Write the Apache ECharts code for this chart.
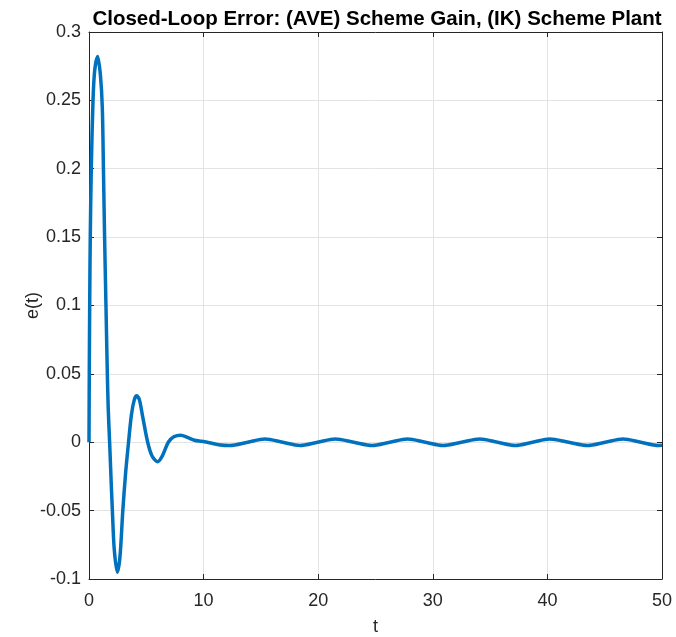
<!DOCTYPE html>
<html>
<head>
<meta charset="utf-8">
<script src="https://cdn.jsdelivr.net/npm/echarts@6/dist/echarts.min.js"></script>
<style>html,body{margin:0;padding:0;background:#fff;}#c{width:676px;height:637px;}</style>
</head>
<body>
<div id="c"></div>
<script>
const titleText = 'Closed-Loop Error: (AVE) Scheme Gain, (IK) Scheme Plant';
const xName = 't';
const yName = 'e(t)';
const tValues = [0, 0.03, 0.06, 0.11, 0.2, 0.35, 0.5, 0.76, 1.0, 1.16, 1.26, 1.36, 1.48, 1.6, 1.68, 1.8, 1.92, 2.04, 2.2, 2.47, 2.7, 2.95, 3.2, 3.45, 3.7, 3.95, 4.16, 4.4, 4.7, 5.12, 5.5, 5.99, 6.4, 6.92, 7.4, 8.0, 8.6, 9.2, 9.83, 10.5, 11.3, 12.3, 13.85, 15.36, 16.9, 18.4, 19.95, 21.5, 23.1, 24.7, 26.25, 27.8, 29.35, 30.9, 32.5, 34.1, 35.65, 37.2, 38.7, 40.2, 41.85, 43.5, 45.05, 46.6, 48.15, 49.7, 50];
const eValues = [0, 0.06, 0.10, 0.15, 0.20, 0.25, 0.272, 0.282, 0.268, 0.245, 0.20, 0.15, 0.10, 0.05, 0.024, 0.0, -0.026, -0.05, -0.078, -0.095, -0.084, -0.05, -0.022, 0.0, 0.02, 0.031, 0.034, 0.031, 0.018, 0.0, -0.01, -0.0142, -0.01, 0.0, 0.004, 0.0052, 0.0035, 0.0015, 0.0007, -0.0003, -0.0018, -0.0024, 0, 0.0023, 0, -0.0023, 0, 0.0023, 0, -0.0023, 0, 0.0023, 0, -0.0023, 0, 0.0023, 0, -0.0023, 0, 0.0023, 0, -0.0023, 0, 0.0023, 0, -0.0023, -0.0022];

const data = tValues.map((t, i) => [t, eValues[i]]);
const font = 'Liberation Sans, Arial, Helvetica, sans-serif';
const axisCol = '#262626';
const gridCol = '#e3e3e3';

const chart = echarts.init(document.getElementById('c'), null, {renderer: 'canvas'});
const baseX = {
  type: 'value', min: 0, max: 50, interval: 10,
  axisLine: {show: true, onZero: false, lineStyle: {color: axisCol, width: 1}},
  axisTick: {show: true, inside: true, length: 5, lineStyle: {color: axisCol}},
};
const baseY = {
  type: 'value', min: -0.1, max: 0.3, interval: 0.05,
  axisLine: {show: true, onZero: false, lineStyle: {color: axisCol, width: 1}},
  axisTick: {show: true, inside: true, length: 5, lineStyle: {color: axisCol}},
};
chart.setOption({
  animation: false,
  backgroundColor: '#ffffff',
  title: {
    text: titleText, left: 372, top: 4, textAlign: 'center',
    textStyle: {fontFamily: font, fontSize: 20.5, fontWeight: 'bold', color: '#000'}
  },
  grid: {left: 89, right: 14, top: 32, bottom: 58, containLabel: false, outerBoundsMode: 'none'},
  xAxis: [
    Object.assign({}, baseX, {
      position: 'bottom',
      name: xName, nameLocation: 'middle', nameGap: 39, nameMoveOverlap: false,
      nameTextStyle: {fontFamily: font, fontSize: 18, color: axisCol},
      axisLabel: {fontFamily: font, fontSize: 18, color: axisCol, margin: 13},
      splitLine: {show: true, lineStyle: {color: gridCol, width: 1}}
    }),
    Object.assign({}, baseX, {
      position: 'top', axisLabel: {show: false}, splitLine: {show: false}
    })
  ],
  yAxis: [
    Object.assign({}, baseY, {
      position: 'left',
      name: yName, nameLocation: 'middle', nameGap: 47, nameMoveOverlap: false,
      nameTextStyle: {fontFamily: font, fontSize: 18, color: axisCol},
      axisLabel: {fontFamily: font, fontSize: 18, color: axisCol, margin: 8},
      splitLine: {show: true, lineStyle: {color: gridCol, width: 1}}
    }),
    Object.assign({}, baseY, {
      position: 'right', axisLabel: {show: false}, splitLine: {show: false}
    })
  ],
  series: [{
    type: 'line', data: data, xAxisIndex: 0, yAxisIndex: 0,
    showSymbol: false, smooth: 0.3,
    lineStyle: {color: '#0072BD', width: 3.5},
    clip: true
  }]
});
</script>
</body>
</html>
